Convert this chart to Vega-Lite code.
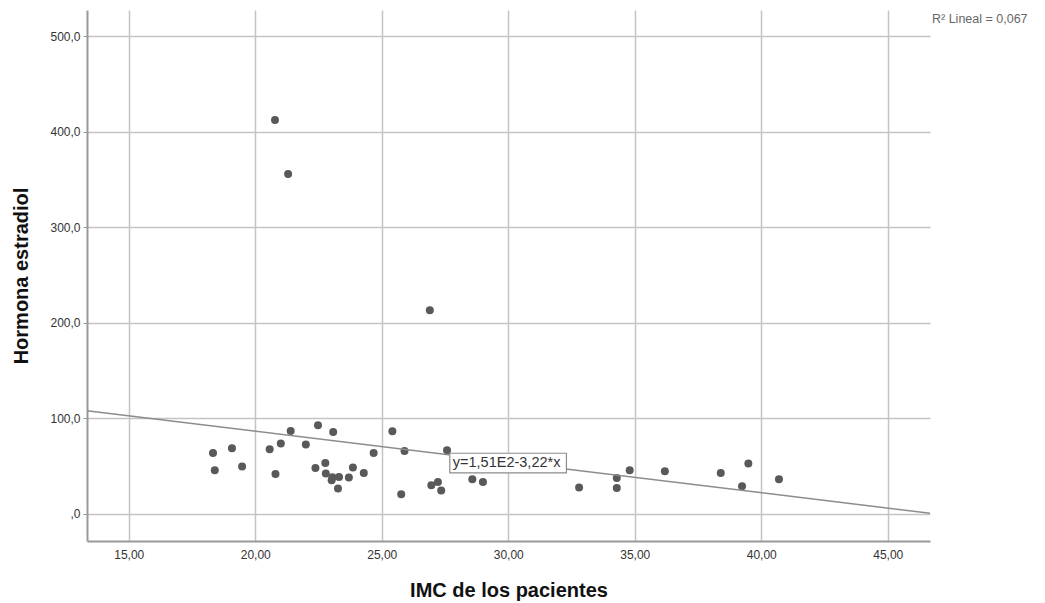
{
  "$schema": "https://vega.github.io/schema/vega-lite/v6.json",
  "width": 843,
  "height": 531,
  "autosize": {"type": "none"},
  "padding": {"left": 87, "top": 10, "right": 115, "bottom": 62},
  "background": "white",
  "config": {
    "view": {"stroke": null},
    "font": "Liberation Sans",
    "axis": {
      "gridColor": "#c4c4c4",
      "gridWidth": 1.5,
      "domainColor": "#999999",
      "domainWidth": 2,
      "tickColor": "#999999",
      "labelFont": "Liberation Sans",
      "labelFontSize": 12,
      "labelColor": "#333333",
      "titleFont": "Liberation Sans",
      "titleFontSize": 20,
      "titleFontWeight": "bold",
      "titleColor": "#111111"
    }
  },
  "datasets": {
    "pts": [
      {"imc": 18.33, "estradiol": 63.8},
      {"imc": 18.40, "estradiol": 45.7},
      {"imc": 19.08, "estradiol": 68.8},
      {"imc": 19.48, "estradiol": 49.6},
      {"imc": 20.57, "estradiol": 67.7},
      {"imc": 20.80, "estradiol": 41.9},
      {"imc": 21.01, "estradiol": 73.7},
      {"imc": 21.40, "estradiol": 86.9},
      {"imc": 22.00, "estradiol": 72.6},
      {"imc": 22.48, "estradiol": 92.8},
      {"imc": 22.38, "estradiol": 48.1},
      {"imc": 22.77, "estradiol": 53.4},
      {"imc": 22.79, "estradiol": 42.3},
      {"imc": 23.08, "estradiol": 85.8},
      {"imc": 23.02, "estradiol": 35.3},
      {"imc": 23.05, "estradiol": 38.5},
      {"imc": 23.31, "estradiol": 38.7},
      {"imc": 23.27, "estradiol": 26.6},
      {"imc": 23.70, "estradiol": 38.1},
      {"imc": 23.86, "estradiol": 48.6},
      {"imc": 24.29, "estradiol": 42.9},
      {"imc": 24.68, "estradiol": 63.8},
      {"imc": 25.42, "estradiol": 86.6},
      {"imc": 25.90, "estradiol": 65.9},
      {"imc": 25.77, "estradiol": 20.6},
      {"imc": 26.96, "estradiol": 30.0},
      {"imc": 27.22, "estradiol": 33.5},
      {"imc": 27.35, "estradiol": 24.5},
      {"imc": 27.58, "estradiol": 66.7},
      {"imc": 28.58, "estradiol": 36.3},
      {"imc": 29.00, "estradiol": 33.5},
      {"imc": 32.80, "estradiol": 27.6},
      {"imc": 34.29, "estradiol": 37.7},
      {"imc": 34.29, "estradiol": 27.2},
      {"imc": 34.80, "estradiol": 45.7},
      {"imc": 36.19, "estradiol": 44.7},
      {"imc": 38.40, "estradiol": 42.9},
      {"imc": 39.24, "estradiol": 29.0},
      {"imc": 39.49, "estradiol": 52.8},
      {"imc": 40.70, "estradiol": 36.3},
      {"imc": 20.78, "estradiol": 412.1},
      {"imc": 21.30, "estradiol": 355.6},
      {"imc": 26.90, "estradiol": 213.2}
    ],
    "fit": [
      {"imc": 13.35, "estradiol": 108.0},
      {"imc": 46.67, "estradiol": 0.7}
    ],
    "eq": [
      {"x1": 27.69, "x2": 32.30, "y1": 63.5, "y2": 42.9, "xt": 27.69, "yt": 53.2, "label": "y=1,51E2-3,22*x"}
    ],
    "r2": [
      {"imc": 46.67, "estradiol": 518, "label": "R² Lineal = 0,067"}
    ]
  },
  "layer": [
    {
      "data": {"name": "pts"},
      "mark": {"type": "point", "filled": true, "size": 64, "color": "#595959", "opacity": 1},
      "encoding": {
        "x": {
          "field": "imc", "type": "quantitative",
          "scale": {"domain": [13.35, 46.67], "nice": false, "zero": false},
          "axis": {
            "values": [15, 20, 25, 30, 35, 40, 45],
            "labelExpr": "replace(format(datum.value, '.2f'), '.', ',')",
            "title": "IMC de los pacientes",
            "tickSize": 0,
            "labelPadding": 8,
            "titlePadding": 20
          }
        },
        "y": {
          "field": "estradiol", "type": "quantitative",
          "scale": {"domain": [-28.3, 527.2], "nice": false, "zero": false},
          "axis": {
            "values": [0, 100, 200, 300, 400, 500],
            "labelExpr": "datum.value == 0 ? ',0' : replace(format(datum.value, '.1f'), '.', ',')",
            "title": "Hormona estradiol",
            "tickSize": 4,
            "labelPadding": 3,
            "titlePadding": 18
          }
        }
      }
    },
    {
      "data": {"name": "fit"},
      "mark": {"type": "line", "color": "#8c8c8c", "strokeWidth": 1.5},
      "encoding": {
        "x": {"field": "imc", "type": "quantitative"},
        "y": {"field": "estradiol", "type": "quantitative"}
      }
    },
    {
      "data": {"name": "eq"},
      "mark": {"type": "rect", "fill": "white", "stroke": "#8c8c8c", "strokeWidth": 1.2},
      "encoding": {
        "x": {"field": "x1", "type": "quantitative"},
        "x2": {"field": "x2"},
        "y": {"field": "y1", "type": "quantitative"},
        "y2": {"field": "y2"}
      }
    },
    {
      "data": {"name": "eq"},
      "mark": {"type": "text", "align": "left", "baseline": "middle", "dx": 3, "fontSize": 14.5, "color": "#333333", "font": "Liberation Sans"},
      "encoding": {
        "x": {"field": "xt", "type": "quantitative"},
        "y": {"field": "yt", "type": "quantitative"},
        "text": {"field": "label"}
      }
    },
    {
      "data": {"name": "r2"},
      "mark": {"type": "text", "align": "left", "baseline": "middle", "dx": 2, "fontSize": 12.5, "color": "#666666", "font": "Liberation Sans", "clip": false},
      "encoding": {
        "x": {"field": "imc", "type": "quantitative"},
        "y": {"field": "estradiol", "type": "quantitative"},
        "text": {"field": "label"}
      }
    }
  ]
}
